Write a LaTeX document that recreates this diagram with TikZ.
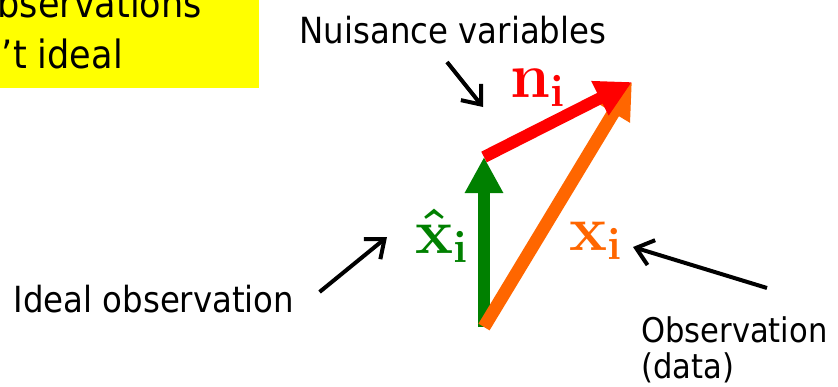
\RequirePackage{fix-cm}
\documentclass[tikz,border=0pt]{standalone}
\usepackage[no-math]{fontspec}
\setmainfont{DejaVu Sans Condensed}
\usetikzlibrary{arrows.meta,calc}
\definecolor{noiseRed}{RGB}{255,0,0}
\definecolor{obsOrange}{RGB}{255,102,0}
\definecolor{idealGreen}{RGB}{0,128,0}
\definecolor{noteYellow}{RGB}{255,255,0}
\tikzset{
    vec/.style={line width=12pt, -{Triangle[length=36pt,width=36pt]}},
    vlabel/.style={inner sep=0pt, font=\fontsize{64}{70}\selectfont},
    note/.style={inner sep=0pt, font=\fontsize{36}{36}\selectfont},
    boxtext/.style={inner sep=0pt, font=\fontsize{39}{51}\selectfont},
    pointer/.style={line width=4pt, black, -{Straight Barb[length=16pt,width=26pt]}},
}

\begin{document}
\begin{tikzpicture}[x=1pt,y=-1pt]
\useasboundingbox (0,0) rectangle (838,386);
\clip (0,0) rectangle (838,386);

% Yellow box, cut off at the top left
\fill[noteYellow] (-120,-80) rectangle (259,88);
\node[boxtext, anchor=base east] (box1) at (202,17) {observations};
\node[boxtext, anchor=base east] (box2) at (123,68) {aren’t ideal};

% Vector end points
\coordinate (origin) at (484,327);
\coordinate (xhat) at (484,157);
\coordinate (obs) at (632,82);

% Vectors
\draw[vec, idealGreen] (origin) -- (xhat);
\draw[vec, obsOrange, line width=13pt] (origin) -- (obs);
\draw[vec, noiseRed] (xhat) -- (obs);

% Vector labels
\node[vlabel, noiseRed, anchor=base west] (nlab) at (510,97) {$\mathbf{n}_{\mathbf{i}}$};
\node[vlabel, idealGreen, anchor=base west] (xhatlab) at (415,253) {$\mathbf{\hat{x}}_{\mathbf{i}}$};
\node[vlabel, obsOrange, anchor=base west] (xlab) at (569,250) {$\mathbf{x}_{\mathbf{i}}$};

% Annotations
\node[note, anchor=base] (nuis) at (453,43) {Nuisance variables};
\node[note, anchor=base] (ideal) at (154,312) {Ideal observation};
\node[note, anchor=base west, align=left, font=\fontsize{34}{36}\selectfont] (data) at (641,378) {Observation\\(data)};

% Pointers
\coordinate (nuisTip) at (483,107);
\coordinate (idealTip) at (387,237);
\coordinate (obsTip) at (633,247);
\draw[pointer] ($(nuis.base)+(-6,19)$) -- (nuisTip);
\draw[pointer] ($(ideal.base east)+(25,-20)$) -- (idealTip);
\draw[pointer] ($(data.base west)+(126,-90)$) -- (obsTip);

\end{tikzpicture}
\end{document}
